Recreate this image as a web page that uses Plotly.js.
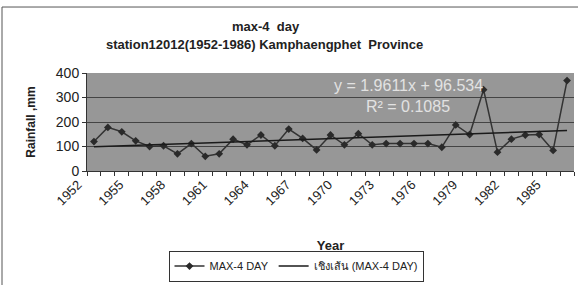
<!DOCTYPE html>
<html>
<head>
<meta charset="utf-8">
<script src="https://cdn.plot.ly/plotly-3.0.1.min.js"></script>
<style>html,body{margin:0;padding:0;background:#fff;}#chart{width:578px;height:285px;}</style>
</head>
<body>
<div id="chart"></div>
<script>
const years = [1952,1953,1954,1955,1956,1957,1958,1959,1960,1961,1962,1963,1964,1965,1966,1967,1968,1969,1970,1971,1972,1973,1974,1975,1976,1977,1978,1979,1980,1981,1982,1983,1984,1985,1986];
const rainfall = [120,178,160,123,100,103,70,112,60,70,130,107,147,103,171,133,86,147,107,152,107,112,112,112,112,97,188,149,332,77,130,147,149,84,369];
const tickYears = [1952,1955,1958,1961,1964,1967,1970,1973,1976,1979,1982,1985];
const trendSlope = 1.9611;
const trendIntercept = 96.534;
const r2 = 0.1085;
const titleLine1 = 'max-4  day';
const titleLine2 = 'station12012(1952-1986) Kamphaengphet  Province';

const trendY = years.map((y, i) => trendSlope * (i + 1) + trendIntercept);

const F = '"Liberation Sans", Arial, sans-serif';
const px2x = p => (p - 87) / 487;
const px2y = p => (174 - p) / 101;

const data = [
  {x: years, y: rainfall, type: 'scatter', mode: 'lines+markers', name: 'MAX-4 DAY',
   line: {color: '#333333', width: 1.5}, marker: {symbol: 'diamond', size: 6, color: '#2a2a2a'}},
  {x: years, y: trendY, type: 'scatter', mode: 'lines', name: 'เชิงเส้น (MAX-4 DAY)',
   line: {color: '#1a1a1a', width: 1.5}}
];

const layout = {
  width: 578, height: 285,
  margin: {l: 87, r: 4, t: 73, b: 111},
  paper_bgcolor: '#ffffff', plot_bgcolor: '#979797',
  font: {family: F, color: '#222'},
  showlegend: true,
  xaxis: {range: [1951.5, 1986.5], tickmode: 'array', tickvals: tickYears,
          ticktext: tickYears.map(String), tickangle: -45, ticks: '',
          tickfont: {size: 13, family: F, color: '#222'}, ticklabelshift: -16,
          minor: {ticks: 'outside', tickmode: 'linear', tick0: 1951.5, dtick: 1, ticklen: 4, tickcolor: '#333', showgrid: false},
          showgrid: false, showline: true, linecolor: '#333', zeroline: false,
          title: {text: '<b>Year</b>', font: {size: 13, family: F, color: '#222'}, standoff: 33}},
  yaxis: {range: [0, 400], dtick: 100, tick0: 0, ticks: 'outside', ticklen: 4, tickcolor: '#333',
          tickfont: {size: 14, family: F, color: '#222'},
          showgrid: true, gridcolor: '#444', gridwidth: 1,
          showline: true, linecolor: '#333', zeroline: false,
          title: {text: '<b>Rainfall ,mm</b>', font: {size: 12, family: F, color: '#222'}, standoff: 17}},
  legend: {orientation: 'h', xref: 'paper', yref: 'paper', x: px2x(296), xanchor: 'center',
           y: px2y(256), yanchor: 'top', bgcolor: '#fff', bordercolor: '#333', borderwidth: 1,
           font: {size: 11, family: F, color: '#222'}, itemwidth: 30, tracegroupgap: 0},
  annotations: [
    {text: '<b>' + titleLine1 + '</b>', xref: 'paper', yref: 'paper',
     x: px2x(266), y: px2y(25), xanchor: 'center', yanchor: 'middle', showarrow: false,
     font: {size: 13, family: F, color: '#222'}},
    {text: '<b>' + titleLine2 + '</b>', xref: 'paper', yref: 'paper',
     x: px2x(264), y: px2y(44), xanchor: 'center', yanchor: 'middle', showarrow: false,
     font: {size: 13, family: F, color: '#222'}},
    {text: 'y = ' + trendSlope + 'x + ' + trendIntercept, xref: 'paper', yref: 'paper',
     x: px2x(408), y: px2y(86), xanchor: 'center', yanchor: 'middle', showarrow: false,
     font: {size: 16, family: F, color: '#e2e2e2'}},
    {text: 'R² = ' + r2, xref: 'paper', yref: 'paper',
     x: px2x(408), y: px2y(108), xanchor: 'center', yanchor: 'middle', showarrow: false,
     font: {size: 16, family: F, color: '#e2e2e2'}}
  ],
  shapes: [
    {type: 'rect', xref: 'paper', yref: 'paper', x0: px2x(2), x1: px2x(600), y0: px2y(300), y1: px2y(5),
     line: {color: '#555', width: 1}, fillcolor: 'rgba(0,0,0,0)', layer: 'below'}
  ]
};

Plotly.newPlot('chart', data, layout, {displayModeBar: false, staticPlot: true});
</script>
</body>
</html>
